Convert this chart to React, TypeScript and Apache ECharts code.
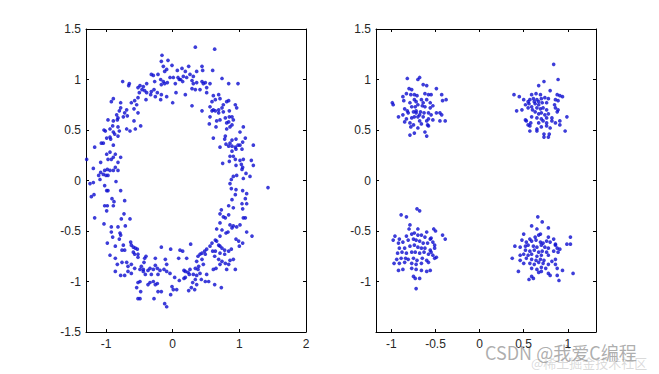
import { useEffect, useRef } from "react";
import * as echarts from "echarts";

// Left subplot: ring-shaped cloud (x, y)
const ringPoints: number[][] = [
  [-0.16,1.24],[-0.17,1.18],[-0.07,1.19],[-0.14,1.13],[-0.01,1.14],[0.14,1.11],[0.07,1.09],[0.16,1.03],[0.12,1.0],[0.08,1.02],[-0.12,1.08],[-0.09,1.1],[-0.32,1.05],[-0.29,1.04],[-0.22,1.05],[-0.18,1.0],[-0.14,0.98],[-0.12,0.96],[-0.17,0.95],[-0.08,0.97],[-0.04,1.02],[0.04,0.96],[0.1,1.0],[0.15,0.98],[0.01,1.02],[-0.27,0.98],[-0.75,0.98],[-0.65,0.96],[-0.66,0.94],[-0.39,0.96],[-0.44,0.93],[-0.49,0.94],[-0.52,0.92],[-0.46,0.9],[-0.42,0.89],[-0.39,0.87],[-0.32,0.88],[-0.28,0.9],[-0.23,0.87],[-0.17,0.85],[-0.09,0.83],[-0.18,0.8],[0.0,0.77],[0.05,0.87],[-0.26,0.83],[-0.33,0.85],[-0.4,0.8],[-0.5,0.87],[-0.52,0.82],[-0.57,0.79],[-0.62,0.77],[-0.58,0.71],[-0.54,0.75],[-0.69,0.7],[-0.72,0.67],[-0.68,0.64],[-0.74,0.63],[-0.82,0.62],[-0.83,0.6],[-0.89,0.59],[-0.92,0.78],[-0.89,0.81],[-0.78,0.77],[-0.78,0.72],[-0.8,0.69],[-0.84,0.65],[-0.97,0.6],[-0.9,0.54],[-0.82,0.53],[-0.8,0.49],[-0.82,0.44],[-0.87,0.46],[-0.89,0.48],[-0.94,0.51],[-1.01,0.49],[-1.03,0.5],[-0.99,0.42],[-0.94,0.43],[-0.93,0.41],[-0.52,0.67],[-0.58,0.59],[-0.56,0.51],[-0.69,0.51],[-0.64,0.49],[-0.48,0.54],[-1.04,0.37],[-1.07,0.37],[-1.17,0.33],[-0.89,0.35],[-0.94,0.28],[-0.99,0.26],[-0.97,0.21],[-0.92,0.21],[-0.89,0.23],[-0.86,0.26],[-0.78,0.23],[-0.82,0.18],[-0.86,0.13],[-0.89,0.1],[-0.94,0.1],[-0.98,0.11],[-1.02,0.1],[-1.04,0.06],[-1.08,0.08],[-1.11,0.05],[-1.0,0.05],[-0.97,0.05],[-1.08,0.18],[-1.19,0.12],[-1.29,0.21],[-1.09,0.01],[-0.82,0.1],
  [0.34,1.32],[0.63,1.3],[0.24,1.13],[0.19,1.08],[0.21,1.02],[0.26,1.05],[0.31,1.03],[0.36,1.08],[0.44,1.13],[0.45,1.09],[0.6,1.09],[0.74,1.01],[0.29,0.99],[0.31,0.96],[0.36,0.97],[0.44,0.98],[0.46,0.96],[0.49,0.97],[0.56,0.96],[0.51,0.92],[0.41,0.9],[0.34,0.9],[0.29,0.91],[0.19,0.85],[0.29,0.74],[0.44,0.69],[0.51,0.87],[0.61,0.84],[0.71,0.81],[0.84,0.96],[0.98,0.96],[0.69,0.85],[0.64,0.8],[0.59,0.78],[0.56,0.73],[0.61,0.7],[0.64,0.69],[0.69,0.7],[0.74,0.72],[0.76,0.75],[0.81,0.78],[0.84,0.79],[0.94,0.75],[0.96,0.72],[0.85,0.69],[0.76,0.68],[0.69,0.67],[0.59,0.69],[0.56,0.63],[0.55,0.56],[0.66,0.59],[0.71,0.6],[0.79,0.62],[0.81,0.57],[0.85,0.63],[0.89,0.63],[0.91,0.6],[0.89,0.55],[0.86,0.53],[0.81,0.51],[0.84,0.58],[1.06,0.53],[1.01,0.48],[1.09,0.42],[1.05,0.38],[0.95,0.41],[0.89,0.4],[0.86,0.37],[0.79,0.44],[0.78,0.41],[0.61,0.42],[0.65,0.53],[0.8,0.36],[0.71,0.33],[0.84,0.34],[0.89,0.34],[0.94,0.33],[0.98,0.35],[1.01,0.35],[1.04,0.31],[0.95,0.31],[0.89,0.29],[0.86,0.24],[0.91,0.24],[0.94,0.21],[1.01,0.2],[1.06,0.21],[1.03,0.16],[1.05,0.13],[1.04,0.11],[1.21,0.35],[0.75,0.17],[0.85,0.19],[0.95,0.15],[1.18,0.2],[1.21,0.15],[1.1,0.07],[1.16,0.04],[1.06,0.02],[0.96,0.05],[0.91,0.04],[0.88,0.01],
  [-1.24,-0.03],[-1.19,-0.02],[-1.02,-0.05],[-0.99,-0.1],[-0.97,-0.1],[-0.85,-0.01],[-0.78,-0.1],[-1.22,-0.16],[-1.18,-0.14],[-1.02,-0.25],[-0.98,-0.25],[-0.99,-0.3],[-0.91,-0.18],[-0.88,-0.21],[-0.89,-0.25],[-0.72,-0.2],[-0.73,-0.33],[-1.17,-0.37],[-1.03,-0.43],[-0.92,-0.46],[-0.82,-0.46],[-0.71,-0.45],[-0.77,-0.38],[-0.64,-0.38],[-0.92,-0.51],[-0.9,-0.56],[-0.79,-0.52],[-0.78,-0.54],[-0.8,-0.58],[-0.98,-0.62],[-0.86,-0.65],[-0.94,-0.74],[-0.74,-0.64],[-0.76,-0.69],[-0.72,-0.69],[-0.63,-0.61],[-0.62,-0.64],[-0.59,-0.66],[-0.56,-0.67],[-0.53,-0.68],[-0.59,-0.71],[-0.57,-0.73],[-0.52,-0.73],[-0.52,-0.76],[-0.42,-0.77],[-0.43,-0.81],[-0.4,-0.75],[-0.26,-0.77],[-0.17,-0.66],[-0.03,-0.68],[0.11,-0.69],[0.15,-0.7],[-0.11,-0.78],[-0.09,-0.83],[0.09,-0.77],[-0.86,-0.77],[-0.83,-0.83],[-0.76,-0.81],[-0.69,-0.81],[-0.67,-0.85],[-0.62,-0.83],[-0.57,-0.87],[-0.49,-0.88],[-0.44,-0.88],[-0.47,-0.85],[-0.44,-0.9],[-0.37,-0.89],[-0.34,-0.87],[-0.29,-0.88],[-0.26,-0.84],[-0.23,-0.87],[-0.19,-0.89],[-0.13,-0.88],[-0.09,-0.9],[-0.04,-0.92],[0.03,-0.96],[0.1,-0.99],[0.17,-0.97],[0.17,-0.89],[-0.86,-0.9],[-0.78,-0.94],[-0.72,-0.94],[-0.62,-0.92],[-0.67,-0.9],[-0.41,-0.93],[-0.32,-0.93],[-0.22,-0.93],[-0.52,-1.01],[-0.49,-1.0],[-0.54,-1.06],[-0.48,-1.1],[-0.52,-1.17],[-0.49,-1.17],[-0.37,-1.03],[-0.34,-1.01],[-0.29,-1.0],[-0.26,-1.03],[-0.23,-1.02],[-0.22,-1.1],[-0.28,-1.17],[-0.17,-1.1],[-0.01,-1.05],[0.01,-1.08],[0.06,-1.08],[-0.03,-1.13],[-0.12,-1.22],[-0.09,-1.25],
  [0.86,-0.03],[0.88,-0.08],[0.95,-0.09],[1.05,-0.1],[1.43,-0.07],[1.11,-0.13],[1.09,-0.18],[0.94,-0.14],[0.89,-0.19],[1.04,-0.23],[1.11,-0.23],[0.84,-0.25],[0.91,-0.27],[1.05,-0.28],[0.73,-0.29],[0.71,-0.33],[0.76,-0.36],[0.79,-0.37],[0.84,-0.34],[0.71,-0.42],[1.09,-0.37],[1.06,-0.37],[0.86,-0.44],[0.89,-0.47],[0.91,-0.45],[0.96,-0.46],[1.01,-0.44],[0.66,-0.48],[0.74,-0.49],[0.8,-0.52],[0.83,-0.51],[1.11,-0.51],[1.19,-0.55],[0.71,-0.55],[0.64,-0.59],[0.66,-0.6],[0.95,-0.58],[0.99,-0.6],[1.05,-0.62],[1.0,-0.65],[0.69,-0.64],[0.71,-0.65],[0.74,-0.67],[0.78,-0.69],[0.84,-0.7],[0.88,-0.68],[0.59,-0.62],[0.56,-0.65],[0.51,-0.68],[0.48,-0.7],[0.44,-0.72],[0.41,-0.73],[0.38,-0.75],[0.49,-0.73],[0.6,-0.7],[0.64,-0.7],[0.71,-0.72],[0.78,-0.73],[0.63,-0.75],[0.69,-0.78],[0.74,-0.8],[0.79,-0.82],[0.86,-0.79],[0.91,-0.78],[0.84,-0.83],[0.81,-0.88],[0.71,-0.83],[0.65,-0.87],[0.61,-0.88],[0.94,-0.88],[0.27,-0.63],[0.21,-0.77],[0.36,-0.8],[0.44,-0.78],[0.46,-0.83],[0.39,-0.85],[0.38,-0.88],[0.34,-0.87],[0.26,-0.88],[0.23,-0.91],[0.19,-0.9],[0.25,-0.93],[0.31,-0.93],[0.36,-0.94],[0.41,-0.92],[0.51,-0.93],[0.49,-1.0],[0.54,-1.0],[0.63,-1.03],[0.73,-1.06],[0.43,-0.98],[0.34,-0.98],[0.3,-1.01],[0.19,-0.96],[0.36,-1.03],[0.28,-1.06],[0.24,-1.09],[0.33,-1.08],
];

// Right subplot: four clusters
const clusterTopLeft: number[][] = [
  [-0.82,1.01],[-0.7,1.0],[-0.68,1.02],[-0.64,0.95],[-0.6,0.94],[-0.49,0.91],[-0.8,0.91],[-0.77,0.9],[-0.83,0.86],[-0.87,0.83],[-0.86,0.79],[-0.99,0.77],[-0.98,0.75],[-0.78,0.85],[-0.74,0.85],[-0.71,0.84],[-0.62,0.86],[-0.58,0.85],[-0.55,0.85],[-0.43,0.85],[-0.42,0.79],[-0.38,0.8],[-0.74,0.8],[-0.72,0.78],[-0.66,0.8],[-0.6,0.8],[-0.56,0.77],[-0.53,0.74],[-0.79,0.77],[-0.77,0.73],[-0.7,0.75],[-0.65,0.74],[-0.62,0.73],[-0.85,0.71],[-0.82,0.69],[-0.75,0.68],[-0.72,0.69],[-0.67,0.68],[-0.63,0.67],[-0.58,0.67],[-0.55,0.65],[-0.49,0.67],[-0.45,0.67],[-0.43,0.65],[-0.92,0.63],[-0.87,0.65],[-0.83,0.61],[-0.77,0.62],[-0.74,0.63],[-0.7,0.63],[-0.64,0.63],[-0.85,0.58],[-0.79,0.57],[-0.75,0.55],[-0.68,0.59],[-0.66,0.56],[-0.6,0.59],[-0.58,0.61],[-0.53,0.6],[-0.45,0.59],[-0.39,0.59],[-0.78,0.53],[-0.7,0.52],[-0.58,0.54],[-0.59,0.55],[-0.74,0.47],[-0.79,0.45],[-0.62,0.48],[-0.6,0.44],[-0.72,0.67],[-0.68,0.65],[-0.81,0.67],[-0.56,0.72],[-0.73,0.73],[-0.64,0.77],
];
const clusterTopRight: number[][] = [
  [0.84,1.15],[0.89,1.0],[0.73,0.98],[0.67,0.94],[0.8,0.89],[0.39,0.85],[0.45,0.83],[0.59,0.85],[0.64,0.86],[0.69,0.85],[0.88,0.85],[0.91,0.84],[0.94,0.83],[0.5,0.8],[0.55,0.78],[0.57,0.8],[0.61,0.81],[0.65,0.8],[0.7,0.81],[0.74,0.82],[0.78,0.81],[0.86,0.8],[0.89,0.79],[0.52,0.75],[0.56,0.76],[0.59,0.73],[0.63,0.76],[0.67,0.75],[0.71,0.77],[0.76,0.77],[0.85,0.75],[0.55,0.72],[0.6,0.7],[0.65,0.72],[0.69,0.71],[0.72,0.72],[0.76,0.7],[0.86,0.72],[0.89,0.7],[0.42,0.69],[0.48,0.7],[0.63,0.68],[0.67,0.66],[0.7,0.67],[0.74,0.65],[0.78,0.66],[0.88,0.68],[0.59,0.63],[0.65,0.62],[0.7,0.61],[0.76,0.62],[0.82,0.62],[0.99,0.63],[0.53,0.59],[0.58,0.57],[0.67,0.57],[0.72,0.59],[0.76,0.57],[0.82,0.59],[0.86,0.57],[0.91,0.59],[0.55,0.55],[0.57,0.54],[0.65,0.51],[0.7,0.53],[0.76,0.54],[0.8,0.52],[0.91,0.55],[0.57,0.49],[0.65,0.49],[0.73,0.46],[0.79,0.46],[0.73,0.43],[0.78,0.43],[0.97,0.49],[0.52,0.6],[0.62,0.78],[0.67,0.78],
];
const clusterBottomLeft: number[][] = [
  [-0.71,-0.28],[-0.68,-0.3],[-0.89,-0.34],[-0.83,-0.36],[-0.79,-0.44],[-0.8,-0.48],[-0.7,-0.48],[-0.6,-0.51],[-0.52,-0.48],[-0.5,-0.5],[-0.42,-0.54],[-0.39,-0.58],[-0.96,-0.55],[-0.98,-0.59],[-0.91,-0.58],[-0.83,-0.55],[-0.77,-0.53],[-0.74,-0.52],[-0.7,-0.54],[-0.66,-0.54],[-0.62,-0.56],[-0.56,-0.58],[-0.55,-0.57],[-0.92,-0.62],[-0.87,-0.61],[-0.81,-0.59],[-0.75,-0.58],[-0.72,-0.59],[-0.68,-0.6],[-0.64,-0.62],[-0.59,-0.62],[-0.53,-0.61],[-0.51,-0.64],[-0.91,-0.67],[-0.85,-0.67],[-0.79,-0.65],[-0.74,-0.64],[-0.7,-0.66],[-0.66,-0.67],[-0.62,-0.67],[-0.56,-0.69],[-0.51,-0.67],[-0.93,-0.72],[-0.88,-0.71],[-0.83,-0.72],[-0.77,-0.71],[-0.73,-0.71],[-0.68,-0.72],[-0.63,-0.71],[-0.58,-0.73],[-0.53,-0.74],[-0.49,-0.76],[-0.94,-0.78],[-0.89,-0.77],[-0.81,-0.78],[-0.75,-0.77],[-0.71,-0.79],[-0.65,-0.77],[-0.6,-0.79],[-0.51,-0.77],[-0.97,-0.82],[-0.91,-0.82],[-0.85,-0.81],[-0.77,-0.82],[-0.72,-0.83],[-0.66,-0.82],[-0.58,-0.81],[-0.87,-0.88],[-0.92,-0.89],[-0.77,-0.87],[-0.72,-0.88],[-0.66,-0.89],[-0.6,-0.9],[-0.56,-0.89],[-0.75,-0.95],[-0.73,-0.97],[-0.68,-0.97],[-0.72,-1.07],[-0.84,-0.77],[-0.55,-0.71],
];
const clusterBottomRight: number[][] = [
  [0.66,-0.36],[0.71,-0.41],[0.59,-0.45],[0.65,-0.48],[0.78,-0.47],[0.69,-0.53],[0.5,-0.53],[0.57,-0.58],[0.63,-0.56],[0.67,-0.54],[0.78,-0.56],[0.84,-0.58],[1.03,-0.56],[0.48,-0.59],[0.53,-0.61],[0.59,-0.6],[0.64,-0.59],[0.69,-0.61],[0.72,-0.62],[0.76,-0.6],[0.8,-0.61],[0.86,-0.63],[0.99,-0.63],[1.03,-0.63],[0.4,-0.65],[0.46,-0.66],[0.52,-0.65],[0.55,-0.64],[0.61,-0.65],[0.65,-0.66],[0.7,-0.64],[0.74,-0.66],[0.78,-0.67],[0.88,-0.67],[0.91,-0.68],[0.52,-0.69],[0.57,-0.7],[0.62,-0.69],[0.67,-0.71],[0.71,-0.7],[0.76,-0.71],[0.84,-0.7],[0.89,-0.71],[0.46,-0.74],[0.5,-0.73],[0.55,-0.74],[0.59,-0.73],[0.65,-0.75],[0.7,-0.74],[0.78,-0.74],[0.37,-0.77],[0.46,-0.79],[0.53,-0.77],[0.59,-0.78],[0.64,-0.79],[0.69,-0.78],[0.73,-0.79],[0.82,-0.8],[0.86,-0.78],[0.5,-0.82],[0.57,-0.82],[0.62,-0.83],[0.67,-0.81],[0.72,-0.82],[0.78,-0.83],[0.86,-0.83],[0.59,-0.87],[0.65,-0.88],[0.7,-0.86],[0.75,-0.87],[0.88,-0.87],[0.94,-0.89],[0.44,-0.9],[0.67,-0.91],[0.7,-0.9],[0.78,-0.92],[0.8,-0.94],[0.88,-0.94],[1.06,-0.92],[0.61,-0.97],[0.59,-0.95],[0.56,-0.98],[0.9,-0.99],[0.86,-0.64],
];

// Axis ranges and tick labels
const leftXRange = [-1.3, 2];
const leftYRange = [-1.5, 1.5];
const rightXRange = [-1.175, 1.32];
const rightYRange = [-1.5, 1.5];
const leftXTicks = [-1, 0, 1, 2];
const leftYTicks = [-1.5, -1, -0.5, 0, 0.5, 1, 1.5];
const rightXTicks = [-1, -0.5, 0, 0.5, 1];
const rightYTicks = [-1, -0.5, 0, 0.5, 1, 1.5];

const DOT = "#0c0cd0";
const FONT = "'Liberation Sans', Arial, sans-serif";

function makeAxis(
  position: string,
  gridIndex: number,
  range: number[],
  ticks: number[],
  showLabels: boolean,
  margin: number
) {
  return {
    type: "value",
    gridIndex,
    position,
    min: range[0],
    max: range[1],
    axisLine: { show: true, onZero: false, lineStyle: { color: "#000", width: 1 } },
    axisTick: {
      show: true,
      inside: true,
      length: 3,
      customValues: ticks,
      lineStyle: { color: "#000", width: 1 },
    },
    axisLabel: {
      show: showLabels,
      customValues: ticks,
      margin,
      color: "#262626",
      fontSize: 12,
      fontFamily: FONT,
      formatter: (v: number) => String(v),
    },
    splitLine: { show: false },
  };
}

export default function App() {
  const ref = useRef<HTMLDivElement>(null);
  useEffect(() => {
    if (!ref.current) return;
    const chart = echarts.init(ref.current, undefined, { renderer: "svg" });
    const scatter = (data: number[][], xi: number, yi: number) => ({
      type: "scatter",
      xAxisIndex: xi,
      yAxisIndex: yi,
      data,
      symbol: "circle",
      symbolSize: 3.7,
      itemStyle: { color: DOT },
      silent: true,
    });
    chart.setOption({
      animation: false,
      backgroundColor: "#fff",
      grid: [
        { left: 86, right: 353, top: 29, bottom: 42 },
        { left: 376, right: 63, top: 29, bottom: 42 },
      ],
      xAxis: [
        makeAxis("bottom", 0, leftXRange, leftXTicks, true, 6),
        makeAxis("top", 0, leftXRange, leftXTicks, false, 6),
        makeAxis("bottom", 1, rightXRange, rightXTicks, true, 6),
        makeAxis("top", 1, rightXRange, rightXTicks, false, 6),
      ],
      yAxis: [
        makeAxis("left", 0, leftYRange, leftYTicks, true, 5),
        makeAxis("right", 0, leftYRange, leftYTicks, false, 5),
        makeAxis("left", 1, rightYRange, rightYTicks, true, 5),
        makeAxis("right", 1, rightYRange, rightYTicks, false, 5),
      ],
      series: [
        scatter(ringPoints, 0, 0),
        scatter(clusterTopLeft, 2, 2),
        scatter(clusterTopRight, 2, 2),
        scatter(clusterBottomLeft, 2, 2),
        scatter(clusterBottomRight, 2, 2),
      ],
      graphic: [
        {
          type: "text",
          x: 485,
          y: 352,
          silent: true,
          style: {
            text: "CSDN @我爱C编程",
            font: "18px 'Noto Sans CJK SC', sans-serif",
            fill: "rgba(120,120,120,0.6)",
            verticalAlign: "middle",
            align: "left",
          },
        },
        {
          type: "text",
          x: 531,
          y: 362,
          silent: true,
          style: {
            text: "@稀土掘金技术社区",
            font: "13px 'Noto Sans CJK SC', sans-serif",
            fill: "rgba(150,150,150,0.35)",
            verticalAlign: "middle",
            align: "left",
          },
        },
      ],
    });
    return () => chart.dispose();
  }, []);
  return (
    <div
      ref={ref}
      style={{ position: "absolute", left: 0, top: 0, width: 659, height: 374, background: "#fff" }}
    />
  );
}
